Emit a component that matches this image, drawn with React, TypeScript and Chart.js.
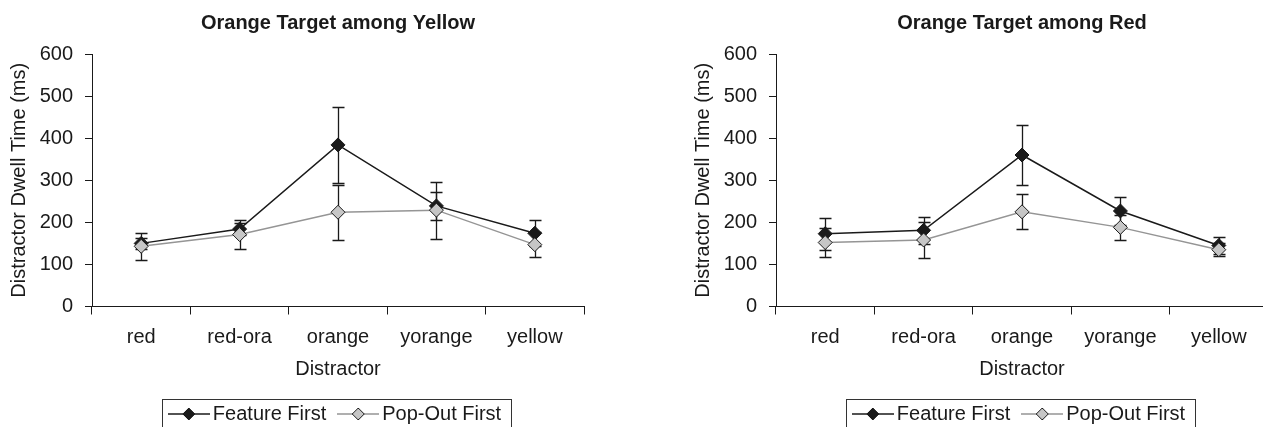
import React, { useEffect, useRef } from "react";
import { Chart, registerables } from "chart.js";

Chart.register(...registerables);

// ---- data ----
const categories = ["red", "red-ora", "orange", "yorange", "yellow"];
const yTickValues = [0, 100, 200, 300, 400, 500, 600];
const seriesNames = ["Feature First", "Pop-Out First"];

const yellowTitle = "Orange Target among Yellow";
const yellowFeature = [150, 184, 384, 239, 174];
const yellowFeatureErr = [13, 15, 91, 34, 31];
const yellowPopOut = [143, 171, 224, 229, 147];
const yellowPopOutErr = [32, 34, 65, 68, 29];

const redTitle = "Orange Target among Red";
const redFeature = [173, 181, 360, 227, 145];
const redFeatureErr = [38, 32, 71, 34, 21];
const redPopOut = [152, 158, 225, 188, 135];
const redPopOutErr = [34, 42, 42, 30, 15];

const xTitle = "Distractor";
const yTitle = "Distractor Dwell Time (ms)";

// ---- styles ----
const FONT = "'Liberation Sans', Arial, Helvetica, sans-serif";
const INK = "#1a1a1a";
const FEATURE_LINE = "#1a1a1a";
const FEATURE_FILL = "#1a1a1a";
const POP_LINE = "#959595";
const POP_FILL = "#c6c6c6";

function makeSymbol(lineColor: string, fill: string, stroke: string) {
  const c = document.createElement("canvas");
  c.width = 42;
  c.height = 14;
  const g = c.getContext("2d")!;
  g.strokeStyle = lineColor;
  g.lineWidth = 1.5;
  g.beginPath();
  g.moveTo(0, 7);
  g.lineTo(42, 7);
  g.stroke();
  g.beginPath();
  g.moveTo(15, 7);
  g.lineTo(21, 1);
  g.lineTo(27, 7);
  g.lineTo(21, 13);
  g.closePath();
  g.fillStyle = fill;
  g.fill();
  g.strokeStyle = stroke;
  g.lineWidth = 1;
  g.stroke();
  return c;
}

const errorBarPlugin = {
  id: "errorBars",
  beforeDatasetsDraw(chart: any) {
    const ctx = chart.ctx;
    const y = chart.scales.y;
    chart.data.datasets.forEach((ds: any, i: number) => {
      const meta = chart.getDatasetMeta(i);
      meta.data.forEach((pt: any, j: number) => {
        const v = ds.data[j];
        const e = ds.errors[j];
        const top = Math.round(y.getPixelForValue(v + e)) + 0.5;
        const bot = Math.round(y.getPixelForValue(v - e)) + 0.5;
        const x = Math.round(pt.x) + 0.5;
        ctx.save();
        ctx.strokeStyle = INK;
        ctx.lineWidth = 1.3;
        ctx.beginPath();
        ctx.moveTo(x, top);
        ctx.lineTo(x, bot);
        ctx.moveTo(x - 6, top);
        ctx.lineTo(x + 6, top);
        ctx.moveTo(x - 6, bot);
        ctx.lineTo(x + 6, bot);
        ctx.stroke();
        ctx.restore();
      });
    });
  },
};

const legendBoxPlugin = {
  id: "legendBox",
  afterDraw(chart: any) {
    const lg = chart.legend;
    if (!lg || !lg.legendHitBoxes || !lg.legendHitBoxes.length) return;
    const hb = lg.legendHitBoxes;
    const left = Math.min(...hb.map((h: any) => h.left)) - 13;
    const right = Math.max(...hb.map((h: any) => h.left + h.width)) + 10;
    const cy = hb[0].top + hb[0].height / 2;
    const ctx = chart.ctx;
    ctx.save();
    ctx.strokeStyle = "#333";
    ctx.lineWidth = 1;
    ctx.strokeRect(Math.round(left) + 0.5, Math.round(cy - 15) + 0.5, Math.round(right - left), 32);
    ctx.restore();
  },
};

type Props = {
  title: string;
  feature: number[];
  featureErr: number[];
  popOut: number[];
  popOutErr: number[];
  left: number;
};

function DwellChart({ title, feature, featureErr, popOut, popOutErr, left }: Props) {
  const ref = useRef<HTMLCanvasElement>(null);
  useEffect(() => {
    const symbols = [
      makeSymbol(FEATURE_LINE, FEATURE_FILL, FEATURE_FILL),
      makeSymbol(POP_LINE, POP_FILL, INK),
    ];
    const chart = new Chart(ref.current!, {
      type: "line",
      data: {
        labels: categories,
        datasets: [
          {
            label: seriesNames[0],
            data: feature,
            errors: featureErr,
            borderColor: FEATURE_LINE,
            backgroundColor: FEATURE_FILL,
            borderWidth: 1.5,
            pointStyle: "rectRot",
            pointRadius: 7,
            pointBackgroundColor: FEATURE_FILL,
            pointBorderColor: FEATURE_FILL,
            pointBorderWidth: 1,
            tension: 0,
            order: 1,
          } as any,
          {
            label: seriesNames[1],
            data: popOut,
            errors: popOutErr,
            borderColor: POP_LINE,
            backgroundColor: POP_FILL,
            borderWidth: 1.5,
            pointStyle: "rectRot",
            pointRadius: 7,
            pointBackgroundColor: POP_FILL,
            pointBorderColor: INK,
            pointBorderWidth: 1,
            tension: 0,
            order: 0,
          } as any,
        ],
      },
      options: {
        responsive: false,
        animation: false,
        events: [],
        layout: { padding: { left: 0, right: 36, top: 0, bottom: 6 } },
        plugins: {
          title: {
            display: true,
            text: title,
            fullSize: false,
            color: INK,
            font: { family: FONT, size: 20, weight: "bold", lineHeight: 1.2 },
            padding: { top: 11, bottom: 19 },
          },
          legend: {
            position: "bottom",
            fullSize: false,
            labels: {
              usePointStyle: true,
              pointStyleWidth: 28,
              padding: 18,
              color: INK,
              font: { family: FONT, size: 20 },
              generateLabels: (c: any) => {
                const items = (Chart.defaults.plugins.legend.labels as any).generateLabels(c);
                return items.map((it: any) => ({ ...it, pointStyle: symbols[it.datasetIndex] }));
              },
              sort: (a: any, b: any) => a.datasetIndex - b.datasetIndex,
            },
          },
          tooltip: { enabled: false },
        },
        scales: {
          x: {
            type: "category",
            offset: true,
            grid: { offset: true, drawOnChartArea: false, drawTicks: true, tickLength: 8, color: INK },
            border: { color: INK, width: 1 },
            ticks: { color: INK, font: { family: FONT, size: 20 }, padding: 10.5 },
            title: {
              display: true,
              text: xTitle,
              color: INK,
              font: { family: FONT, size: 20, lineHeight: 1 },
              padding: { top: 0, bottom: 6.5 },
            },
          },
          y: {
            min: 0,
            max: 600,
            afterBuildTicks: (s: any) => {
              s.ticks = yTickValues.map((v) => ({ value: v }));
            },
            grid: { drawOnChartArea: false, drawTicks: true, tickLength: 7, color: INK },
            border: { color: INK, width: 1 },
            ticks: { color: INK, font: { family: FONT, size: 20 }, padding: 12 },
            title: {
              display: true,
              text: yTitle,
              color: INK,
              font: { family: FONT, size: 20 },
              padding: { top: 7, bottom: 0 },
            },
            afterFit: (s: any) => {
              s.width = 92;
            },
          },
        },
      } as any,
      plugins: [errorBarPlugin, legendBoxPlugin],
    });
    return () => chart.destroy();
  }, []);
  return (
    <canvas
      ref={ref}
      width={620}
      height={440}
      style={{ position: "absolute", left, top: 0, width: 620, height: 440 }}
    />
  );
}

export default function App() {
  return (
    <div
      style={{
        position: "fixed",
        left: 0,
        top: 0,
        width: 1263,
        height: 427,
        overflow: "hidden",
        background: "#fff",
      }}
    >
      <DwellChart
        title={yellowTitle}
        feature={yellowFeature}
        featureErr={yellowFeatureErr}
        popOut={yellowPopOut}
        popOutErr={yellowPopOutErr}
        left={0}
      />
      <DwellChart
        title={redTitle}
        feature={redFeature}
        featureErr={redFeatureErr}
        popOut={redPopOut}
        popOutErr={redPopOutErr}
        left={684}
      />
    </div>
  );
}
